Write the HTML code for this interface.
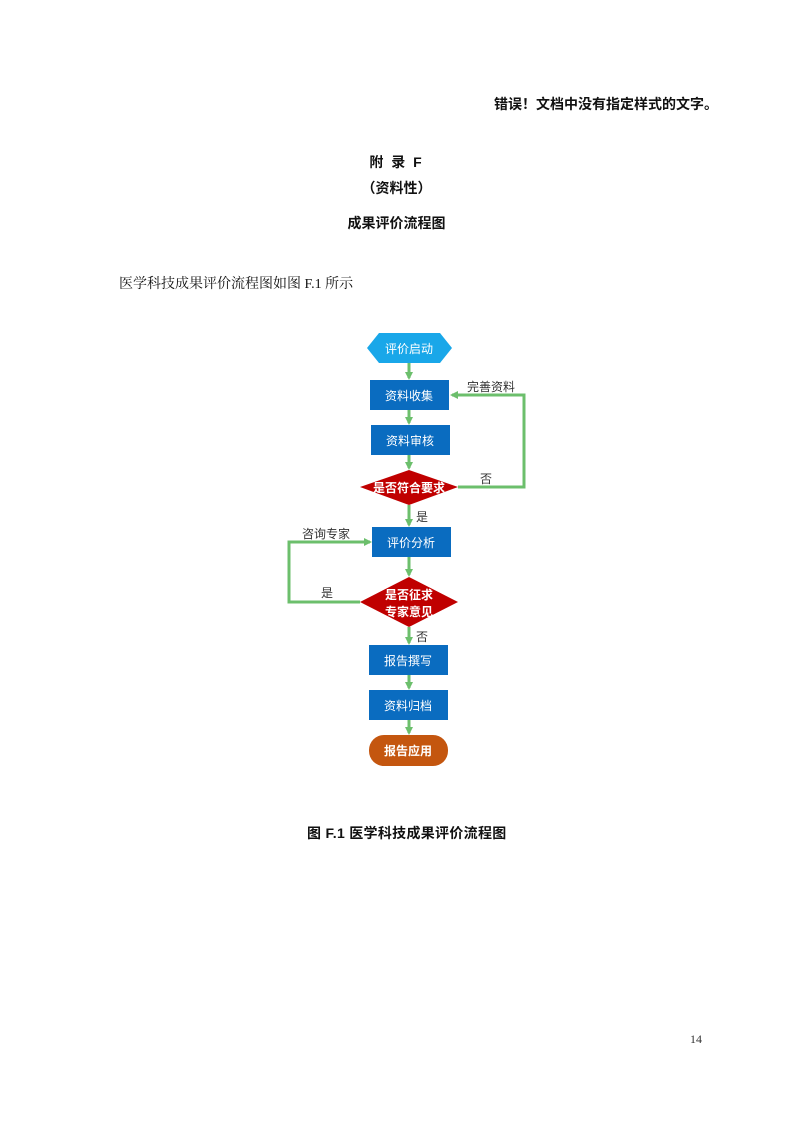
<!DOCTYPE html>
<html><head><meta charset="utf-8"><style>
body{margin:0;background:#fff;}
.p{position:relative;width:793px;height:1122px;overflow:hidden;font-family:"Liberation Sans","Noto Sans CJK SC",sans-serif;color:#111;}
.t{position:absolute;white-space:nowrap;}
</style></head><body><div class="p">
<div class="t" style="left:494px;top:94px;font-size:14px;font-weight:bold;">错误！文档中没有指定样式的文字。</div>
<div class="t" style="left:0;width:793px;text-align:center;top:152px;font-size:14px;font-weight:bold;letter-spacing:2px;">附 录 F</div>
<div class="t" style="left:0;width:793px;text-align:center;top:178px;font-size:14px;font-weight:bold;">（资料性）</div>
<div class="t" style="left:0;width:793px;text-align:center;top:213px;font-size:14px;font-weight:bold;">成果评价流程图</div>
<div class="t" style="left:119px;top:273px;font-size:14px;font-family:'Liberation Serif','Noto Serif CJK SC',serif;">医学科技成果评价流程图如图 F.1 所示</div>
<svg style="position:absolute;left:0;top:0" width="793" height="1122">
<defs><marker id="a" markerWidth="8" markerHeight="8" refX="6" refY="4" orient="auto" markerUnits="userSpaceOnUse"><path d="M0,0 L8,4 L0,8 z" fill="#6cbf6c"/></marker></defs>
<g stroke="#6cbf6c" stroke-width="3" fill="none">
<line x1="409" y1="363" x2="409" y2="378" marker-end="url(#a)"/>
<line x1="409" y1="410" x2="409" y2="423" marker-end="url(#a)"/>
<line x1="409" y1="455" x2="409" y2="468" marker-end="url(#a)"/>
<line x1="409" y1="505" x2="409" y2="525" marker-end="url(#a)"/>
<line x1="409" y1="557" x2="409" y2="575" marker-end="url(#a)"/>
<line x1="409" y1="627" x2="409" y2="643" marker-end="url(#a)"/>
<line x1="409" y1="675" x2="409" y2="688" marker-end="url(#a)"/>
<line x1="409" y1="720" x2="409" y2="733" marker-end="url(#a)"/>
<polyline points="458,487 524,487 524,395 452,395" marker-end="url(#a)"/>
<polyline points="360,602 289,602 289,542 370,542" marker-end="url(#a)"/>
</g>
<polygon points="367,348 379,333 440,333 452,348 440,363 379,363" fill="#19a7e9"/>
<text x="409" y="353" font-size="12" fill="#fff" text-anchor="middle">评价启动</text>
<rect x="370" y="380" width="79" height="30" fill="#0a6cc0"/><text x="409" y="400" font-size="12" fill="#fff" text-anchor="middle">资料收集</text>
<rect x="371" y="425" width="79" height="30" fill="#0a6cc0"/><text x="410" y="445" font-size="12" fill="#fff" text-anchor="middle">资料审核</text>
<polygon points="360,487 409,470 458,487 409,505" fill="#c00000"/><text x="409" y="492" font-size="12" font-weight="bold" fill="#fff" text-anchor="middle">是否符合要求</text>
<rect x="372" y="527" width="79" height="30" fill="#0a6cc0"/><text x="411" y="547" font-size="12" fill="#fff" text-anchor="middle">评价分析</text>
<polygon points="360,602 409,577 458,602 409,627" fill="#c00000"/>
<text x="409" y="599" font-size="12" font-weight="bold" fill="#fff" text-anchor="middle">是否征求</text>
<text x="409" y="616" font-size="12" font-weight="bold" fill="#fff" text-anchor="middle">专家意见</text>
<rect x="369" y="645" width="79" height="30" fill="#0a6cc0"/><text x="408" y="665" font-size="12" fill="#fff" text-anchor="middle">报告撰写</text>
<rect x="369" y="690" width="79" height="30" fill="#0a6cc0"/><text x="408" y="710" font-size="12" fill="#fff" text-anchor="middle">资料归档</text>
<rect x="369" y="735" width="79" height="31" rx="15" fill="#c4560f"/><text x="408" y="755" font-size="12" font-weight="bold" fill="#fff" text-anchor="middle">报告应用</text>
<g font-size="12" fill="#333">
<text x="467" y="391">完善资料</text>
<text x="480" y="483">否</text>
<text x="416" y="521">是</text>
<text x="302" y="538">咨询专家</text>
<text x="321" y="597">是</text>
<text x="416" y="641">否</text>
</g>
</svg>
<div class="t" style="left:307px;top:823px;font-size:14px;font-weight:bold;letter-spacing:0.3px;">图 F.1 医学科技成果评价流程图</div>
<div class="t" style="left:690px;top:1032px;font-size:12px;font-family:'Liberation Serif',serif;color:#333;">14</div>
</div></body></html>
